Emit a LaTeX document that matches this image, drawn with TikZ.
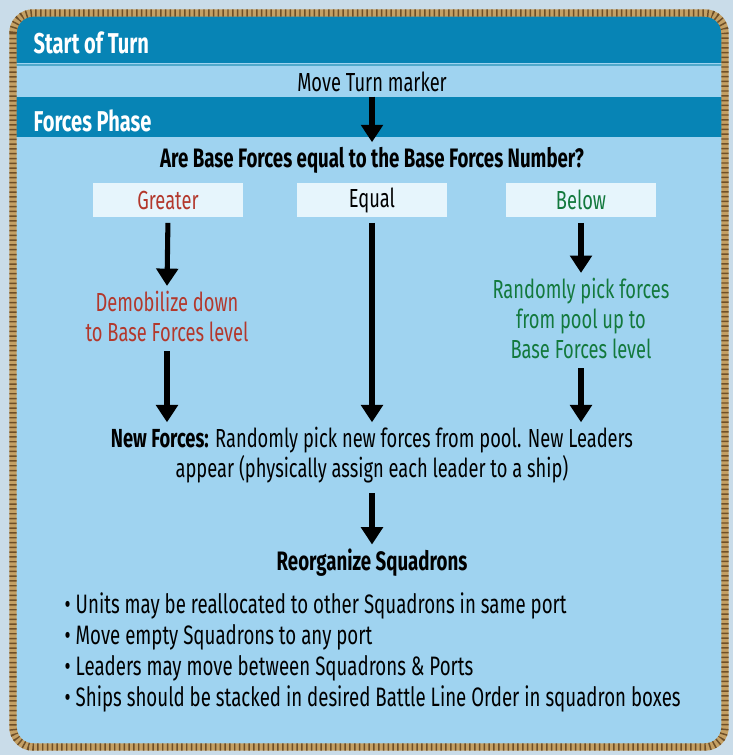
\documentclass[tikz,border=0pt]{standalone}
\usepackage{fontspec}
\setmainfont[FakeStretch=0.7]{Fira Sans}
\usepackage{tikz}
\usetikzlibrary{arrows.meta}
\usetikzlibrary{positioning}

\definecolor{outbg}{HTML}{C9DCE9}
\definecolor{panel}{HTML}{9FD3F0}
\definecolor{barblue}{HTML}{0784B5}
\definecolor{boxfill}{HTML}{E6F5FC}
\definecolor{demored}{HTML}{B3382C}
\definecolor{pickgreen}{HTML}{13793D}
\definecolor{rope}{HTML}{C4A064}
\definecolor{ropedark}{HTML}{6E4F28}

\tikzset{
  bartext/.style={anchor=west, text=white, font=\fontsize{21.5}{24}\selectfont\bfseries},
  plain/.style={font=\fontsize{19.6}{22.5}\selectfont, align=center},
  choice/.style={fill=boxfill, minimum width=112pt, minimum height=26pt, font=\fontsize{19.6}{22}\selectfont},
  flow/.style={line width=3.8pt, shorten <=4pt, -{Triangle[width=16pt, length=13pt]}},
}

\begin{document}
\begin{tikzpicture}[x=0.75pt, y=-0.75pt]
        % Parameters
        \def\W{733} % picture width
        \def\H{755} % picture height
        \def\cx{372} % centre column
        
        % Frame and panel
        \fill[outbg] (0,0) rectangle (\W,\H);
        \useasboundingbox (0,0) rectangle (\W,\H);
        \fill[panel, rounded corners=15pt] (13,13) rectangle (725,747);
        \begin{scope}
            \clip[rounded corners=15pt] (13,13) rectangle (725,747);
            \fill[barblue] (13,13) rectangle (725,63);  % Start of Turn bar
            \fill[barblue] (13,97) rectangle (725,137); % Forces Phase bar
            \draw[barblue!70, line width=0.8pt] (13,65) -- (725,65);
        \end{scope}
        \draw[rope, line width=5.6pt, rounded corners=15pt] (13,13) rectangle (725,747); % rope
        \draw[ropedark, line width=5.6pt, dash pattern=on 1.1pt off 2.5pt, rounded corners=15pt] (13,13) rectangle (725,747);
        
        % Bars
        \node[bartext] (start) at (29,43) {Start of Turn};
        \node[bartext] (phase) at (29,121) {Forces Phase};
        
        % Flow nodes
        \node[plain] (turn) at (\cx,82) {Move Turn marker};
        \node[plain, font=\fontsize{20}{22}\selectfont\bfseries] (ask) at (\cx,160) {Are Base Forces equal to the Base Forces Number?};
        \node[choice, text=demored] (greater) at (168,200) {Greater};
        \node[choice] (equal) at (\cx,200) {Equal};
        \node[choice, text=pickgreen] (below) at (581,200) {Below};
        \node[plain, text=demored] (demob) at (167,316) {Demobilize down\\to Base Forces level};
        \node[plain, text=pickgreen] (pick) at (581,318) {Randomly pick forces\\from pool up to\\Base Forces level};
        \node[plain] (newf) at (\cx,455) {\textbf{New Forces:} Randomly pick new forces from pool. New Leaders\\appear (physically assign each leader to a ship)};
        \node[plain, font=\fontsize{20}{22}\selectfont\bfseries] (reorg) at (\cx,563) {Reorganize Squadrons};
        
        % Bullets
        \foreach \i/\txt in {1/Units may be reallocated to other Squadrons in same port,
                             2/Move empty Squadrons to any port,
                             3/Leaders may move between Squadrons \& Ports,
                             4/Ships should be stacked in desired Battle Line Order in squadron boxes} {
            \node[plain, anchor=west, font=\fontsize{20}{22.5}\selectfont] (bul\i) at (60,575+31*\i) {\textbullet\ \txt};
        }
        
        % Arrows
        \draw[flow, shorten <=0pt] (turn.south) -- (ask.north);
        \draw[flow] (greater.south) -- (demob.north);
        \draw[flow] (demob.south) -- (demob.south |- newf.north);
        \draw[flow] (equal.south) -- (equal.south |- newf.north);
        \draw[flow] (below.south) -- (pick.north);
        \draw[flow] (pick.south) -- (pick.south |- newf.north);
        \draw[flow] (newf.south) -- (reorg.north);
    \end{tikzpicture}
\end{document}
